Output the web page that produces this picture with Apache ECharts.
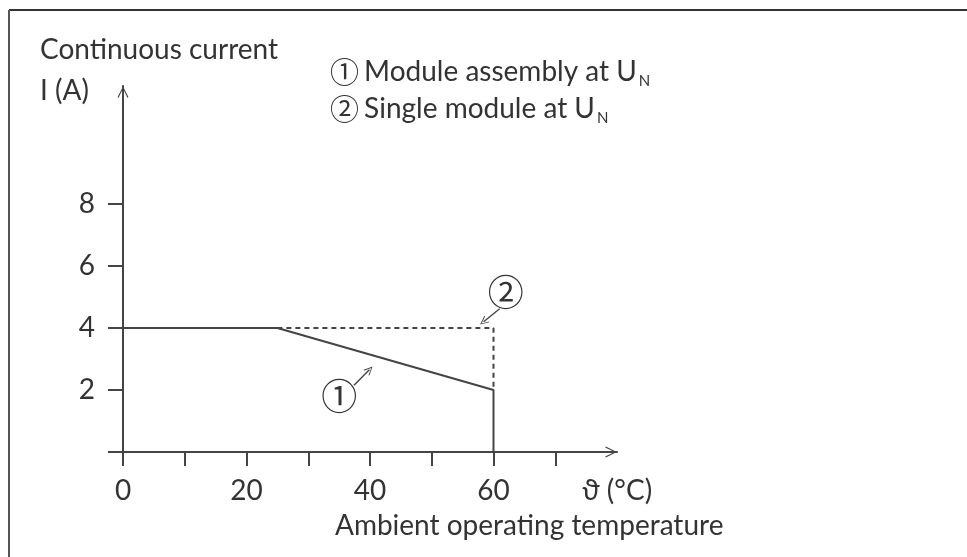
<!DOCTYPE html>
<html>
<head>
<meta charset="utf-8">
<script src="https://cdn.jsdelivr.net/npm/echarts@6/dist/echarts.min.js"></script>
<style>
html,body{margin:0;padding:0;background:#fff;}
#chart{width:967px;height:557px;}
</style>
</head>
<body>
<div id="chart"></div>
<script>
// ---- data ----
const moduleAssembly = [[0, 4], [25, 4], [60, 2], [60, 0]];   // ① solid
const singleModule = [[25, 4], [60, 4], [60, 2]];             // ② dashed
const xTickValues = [0, 10, 20, 30, 40, 50, 60, 70];
const xLabelValues = [0, 20, 40, 60, 80];
const yTickValues = [0, 2, 4, 6, 8];
const yLabelValues = [2, 4, 6, 8];
const legendItems = ['Module assembly at U', 'Single module at U'];
const annotation1 = { text: [35.0, 1.8], from: [37.4, 2.15], to: [39.9, 2.65] };
const annotation2 = { text: [62.0, 5.15], from: [61.0, 4.62], to: [58.4, 4.2] };

const FONT = 'Lato';
const CIRC = 'Noto Sans CJK JP';
const TXT = '#333';
const LINE = '#444';
const chevron = 'path://M0,10 L5,0 L10,10 L9,10.6 L5,2.2 L1,10.6 Z';

const chart = echarts.init(document.getElementById('chart'), null, { renderer: 'canvas' });

function annot(a, label) {
  return {
    markLine: {
      silent: true,
      symbol: ['none', chevron],
      symbolSize: [8, 9],
      lineStyle: { color: LINE, width: 1.4, type: 'solid' },
      label: { show: false },
      data: [[{ coord: a.from }, { coord: a.to }]]
    },
    markPoint: {
      silent: true,
      symbol: 'circle',
      symbolSize: 1,
      itemStyle: { color: 'rgba(0,0,0,0)' },
      label: { show: true, position: 'inside', formatter: label, color: TXT, fontSize: 36, fontFamily: CIRC },
      data: [{ coord: a.text }]
    }
  };
}

const option = {
  backgroundColor: '#fff',
  animation: false,
  grid: { left: 123, right: 350, top: 86, bottom: 105 },
  xAxis: {
    type: 'value', min: 0, max: 80, interval: 10,
    splitLine: { show: false },
    axisLine: { show: true, onZero: false, lineStyle: { color: LINE, width: 2 }, symbol: ['none', chevron], symbolSize: [11, 13], symbolOffset: [0, -6] },
    axisTick: { show: true, length: 14, inside: false, lineStyle: { color: LINE, width: 2 }, customValues: xTickValues },
    axisLabel: {
      customValues: xLabelValues, margin: 25, color: TXT, fontSize: 28, fontFamily: FONT,
      formatter: v => v === 80 ? 'ϑ (°C)' : String(v)
    }
  },
  yAxis: {
    type: 'value', min: 0, max: 11.8, interval: 2,
    splitLine: { show: false },
    axisLine: { show: true, onZero: false, lineStyle: { color: LINE, width: 2 }, symbol: ['none', chevron], symbolSize: [11, 13], symbolOffset: [0, -6] },
    axisTick: { show: true, length: 15, lineStyle: { color: LINE, width: 2 }, customValues: yTickValues },
    axisLabel: { customValues: yLabelValues, margin: 28, color: TXT, fontSize: 28, fontFamily: FONT }
  },
  series: [
    Object.assign({
      name: legendItems[0], type: 'line', data: moduleAssembly, showSymbol: false, symbol: 'none',
      lineStyle: { color: LINE, width: 2 }, z: 3
    }, annot(annotation1, '①')),
    Object.assign({
      name: legendItems[1], type: 'line', data: singleModule, showSymbol: false, symbol: 'none',
      lineStyle: { color: LINE, width: 2, type: [5, 4] }, z: 2
    }, annot(annotation2, '②'))
  ],
  graphic: [
    { type: 'line', shape: { x1: 9, y1: 10, x2: 967, y2: 10 }, style: { stroke: '#333', lineWidth: 2 } },
    { type: 'line', shape: { x1: 9, y1: 10, x2: 9, y2: 557 }, style: { stroke: '#555', lineWidth: 2 } },
    { type: 'text', left: 40, top: 36, style: { text: 'Continuous current', fill: TXT, font: '28px ' + FONT } },
    { type: 'text', left: 40, top: 77, style: { text: 'I (A)', fill: TXT, font: '28px ' + FONT } },
    {
      type: 'text', left: 330, top: 54,
      style: {
        text: '{c|①}{g|  }{t|' + legendItems[0] + '}{s|N}\n{c|②}{g|  }{t|' + legendItems[1] + '}{s|N}',
        fill: TXT,
        rich: {
          c: { fontSize: 29, fontFamily: CIRC, fill: TXT, lineHeight: 37 },
          g: { fontSize: 10, fontFamily: FONT, lineHeight: 37 },
          t: { fontSize: 28, fontFamily: FONT, fill: TXT, lineHeight: 37 },
          s: { fontSize: 15, fontFamily: FONT, fill: TXT, lineHeight: 37, padding: [20, 0, 0, 2] }
        }
      }
    },
    { type: 'text', left: 335, top: 512, style: { text: 'Ambient operating temperature', fill: TXT, font: '28px ' + FONT } }
  ]
};
chart.setOption(option);
</script>
</body>
</html>
